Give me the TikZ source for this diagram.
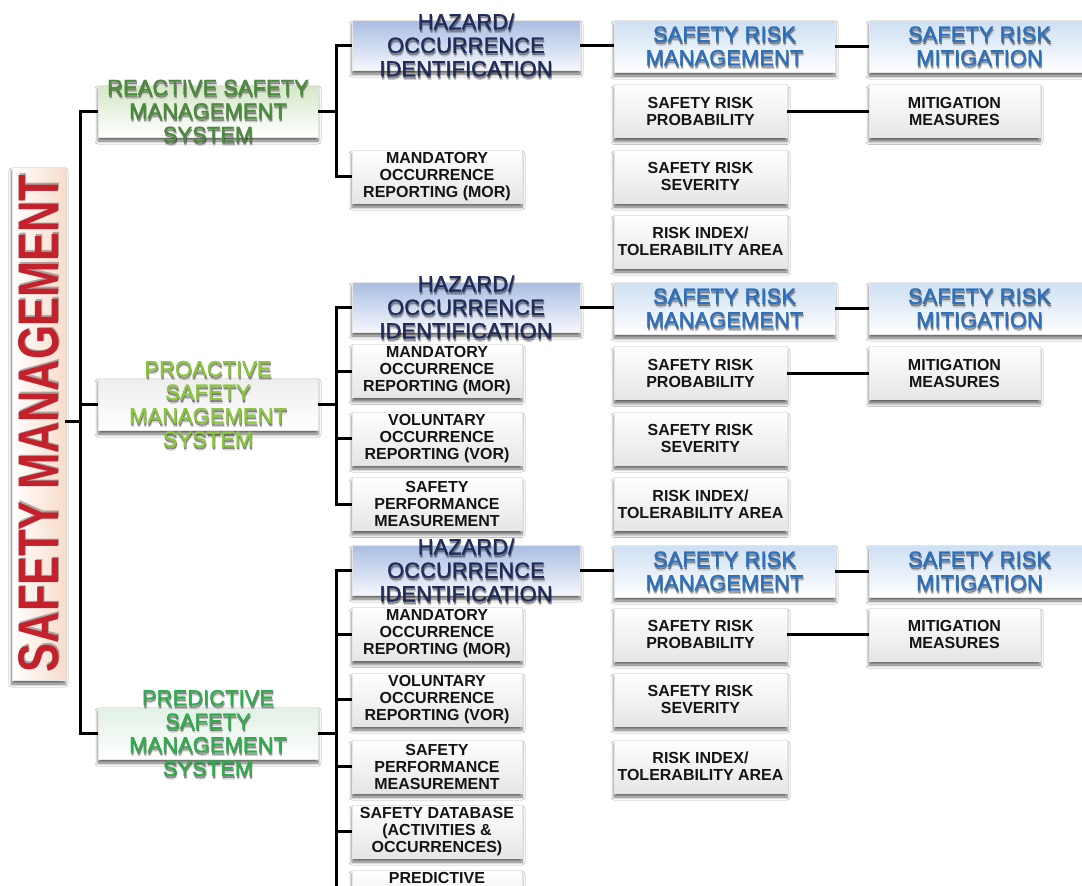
\documentclass[tikz,border=0pt]{standalone}
\usepackage{fontspec}
\setmainfont{Liberation Sans}
\newfontfamily\medfont{Liberation Sans}[FakeBold=1.2]
\usetikzlibrary{shadows.blur}
\definecolor{smred}{HTML}{C3212B}
\definecolor{smpeach}{HTML}{F7DCCB}
\definecolor{reacttxt}{HTML}{4A8B3B}
\definecolor{proacttxt}{HTML}{8CC63E}
\definecolor{predtxt}{HTML}{2DAE4B}
\definecolor{haztxt}{HTML}{1F2B5B}
\definecolor{hazfill}{HTML}{A9BDE3}
\definecolor{srmtxt}{HTML}{2A70BF}
\definecolor{srmfill}{HTML}{CDDFF3}
\definecolor{reactfill}{HTML}{D3E7C6}
\definecolor{predfill}{HTML}{E1F0E4}
\tikzset{
  box/.style={rectangle, inner sep=0pt, draw=black!10, line width=0.4pt,
    blur shadow={shadow xshift=0pt, shadow yshift=-4pt, shadow blur radius=3pt, shadow blur steps=6, shadow opacity=60}},
  sysbox/.style={box, minimum width=220pt, minimum height=52pt},
  hazbox/.style={box, minimum width=228pt, minimum height=50pt, top color=hazfill, bottom color=hazfill!12},
  srmbox/.style={box, minimum width=221pt, minimum height=52pt, top color=srmfill, bottom color=white},
  smallbox/.style={box, minimum height=53pt, top color=white, bottom color=black!10,
    font=\bfseries\fontsize{16}{17}\selectfont, align=center, text=black!92},
  lbox/.style={smallbox, minimum width=170pt},
  rbox/.style={smallbox, minimum width=173pt},
  mbox/.style={smallbox, minimum width=171pt},
  bigtxt/.style={inner sep=0pt, align=center, font=\medfont\fontsize{22}{23.5}\selectfont},
  tshadow/.style={bigtxt, text=black, opacity=0.35, yshift=-2pt, xshift=0.5pt},
  tshadowb/.style={bigtxt, text=black, opacity=0.15, yshift=-3.5pt, xshift=0.8pt},
  link/.style={line width=3pt, draw=black},
}
\newcommand\bigt[4]{\node[tshadowb] (#1b) at (#2) {#4}; \node[tshadow] (#1s) at (#2) {#4}; \node[bigtxt, text=#3] (#1) at (#2) {#4};}
\begin{document}
\begin{tikzpicture}[x=1pt, y=-1pt]
\useasboundingbox (0,0) rectangle (1082,886);
\fill[white] (0,0) rectangle (1082,886);
\clip (0,0) rectangle (1082,886);

% SAFETY MANAGEMENT
\node[box, minimum width=53pt, minimum height=513pt, left color=white, right color=smpeach] (sm) at (38.5,423.5) {};
\node[rotate=90, inner sep=0pt, text=black, opacity=0.3, xshift=1.5pt, yshift=-1.5pt] (smts) at (sm) {\resizebox{497pt}{40pt}{\bfseries SAFETY MANAGEMENT}};
\node[rotate=90, inner sep=0pt, text=smred] (smt) at (sm) {\resizebox{497pt}{40pt}{\bfseries SAFETY MANAGEMENT}};

% system boxes
\node[sysbox, top color=reactfill, bottom color=white] (react) at (208,111) {};
\bigt{reactt}{react}{reacttxt}{REACTIVE SAFETY\\MANAGEMENT\\SYSTEM}
\node[sysbox, top color=black!7, bottom color=white] (proact) at (208,404) {};
\bigt{proactt}{proact}{proacttxt}{PROACTIVE\\SAFETY\\MANAGEMENT\\SYSTEM}
\node[sysbox, top color=predfill, bottom color=white] (pred) at (208,733) {};
\bigt{predt}{pred}{predtxt}{PREDICTIVE\\SAFETY\\MANAGEMENT\\SYSTEM}

% hazard boxes
\node[hazbox] (haz1) at (466,45) {};
\bigt{haz1t}{haz1}{haztxt}{HAZARD/\\OCCURRENCE\\IDENTIFICATION}
\node[hazbox] (haz2) at (466,307) {};
\bigt{haz2t}{haz2}{haztxt}{HAZARD/\\OCCURRENCE\\IDENTIFICATION}
\node[hazbox] (haz3) at (466,570) {};
\bigt{haz3t}{haz3}{haztxt}{HAZARD/\\OCCURRENCE\\IDENTIFICATION}

% SRM and mitigation
\foreach \i/\y in {1/46, 2/308, 3/571}{
  \node[srmbox] (srm\i) at (724.5,\y) {};
  \bigt{srm\i t}{srm\i}{srmtxt}{SAFETY RISK\\MANAGEMENT}
  \node[srmbox] (mit\i) at (979.5,\y) {};
  \bigt{mit\i t}{mit\i}{srmtxt}{SAFETY RISK\\MITIGATION}
}

% level-2 small boxes
\node[lbox] (mor1) at (437,176.5) {MANDATORY\\OCCURRENCE\\REPORTING (MOR)};
\node[lbox] (mor2) at (437,371) {MANDATORY\\OCCURRENCE\\REPORTING (MOR)};
\node[lbox] (vor2) at (437,438.5) {VOLUNTARY\\OCCURRENCE\\REPORTING (VOR)};
\node[lbox] (spm2) at (437,504) {SAFETY\\PERFORMANCE\\MEASUREMENT};
\node[lbox] (mor3) at (437,634) {MANDATORY\\OCCURRENCE\\REPORTING (MOR)};
\node[lbox] (vor3) at (437,699.5) {VOLUNTARY\\OCCURRENCE\\REPORTING (VOR)};
\node[lbox] (spm3) at (437,766.5) {SAFETY\\PERFORMANCE\\MEASUREMENT};
\node[lbox] (db3) at (437,831.5) {SAFETY DATABASE\\(ACTIVITIES \&\\OCCURRENCES)};
\node[lbox] (pr3) at (437,896.5) {};
\node[inner sep=0pt, font=\bfseries\fontsize{16}{17}\selectfont, text=black!92] (pr3t) at (437,878) {PREDICTIVE};

% level-3 small boxes
\foreach \i/\a/\b/\c in {1/111/176.5/241.5, 2/373/438.5/504, 3/634.5/699.5/766.5}{
  \node[rbox] (prob\i) at (700.5,\a) {SAFETY RISK\\PROBABILITY};
  \node[mbox] (mm\i) at (954.5,\a) {MITIGATION\\MEASURES};
  \node[rbox] (sev\i) at (700.5,\b) {SAFETY RISK\\SEVERITY};
  \node[rbox] (risk\i) at (700.5,\c) {RISK INDEX/\\TOLERABILITY AREA};
}

% connectors: main trunk
\coordinate (j0) at (80,421.5);
\draw[link] (react.west) -| (j0) |- (pred.west);
\draw[link] (sm.east |- j0) -- (j0);
\draw[link] (proact.west) -- (proact.west -| j0);

% reactive branch
\coordinate (j1) at (336,111);
\draw[link] (react.east) -- (j1);
\draw[link] (haz1.west) -| (j1) |- (mor1.west);

% proactive branch
\coordinate (j2) at (336,404);
\draw[link] (proact.east) -- (j2);
\draw[link] (haz2.west) -| (j2) |- (spm2.west);
\draw[link] (mor2.west) -- (mor2.west -| j2);
\draw[link] (vor2.west) -- (vor2.west -| j2);

% predictive branch
\coordinate (j3) at (336,733);
\draw[link] (pred.east) -- (j3);
\draw[link] (haz3.west) -| (j3) |- (pr3.west);
\foreach \n in {mor3, vor3, spm3, db3}{
  \draw[link] (\n.west) -- (\n.west -| j3);
}

% right-hand connectors
\foreach \i in {1,2,3}{
  \draw[link] (haz\i.east) -- (srm\i.west |- haz\i.east);
  \draw[link] (srm\i.east) -- (mit\i.west);
  \draw[link] (prob\i.east) -- (mm\i.west);
}
\end{tikzpicture}
\end{document}
